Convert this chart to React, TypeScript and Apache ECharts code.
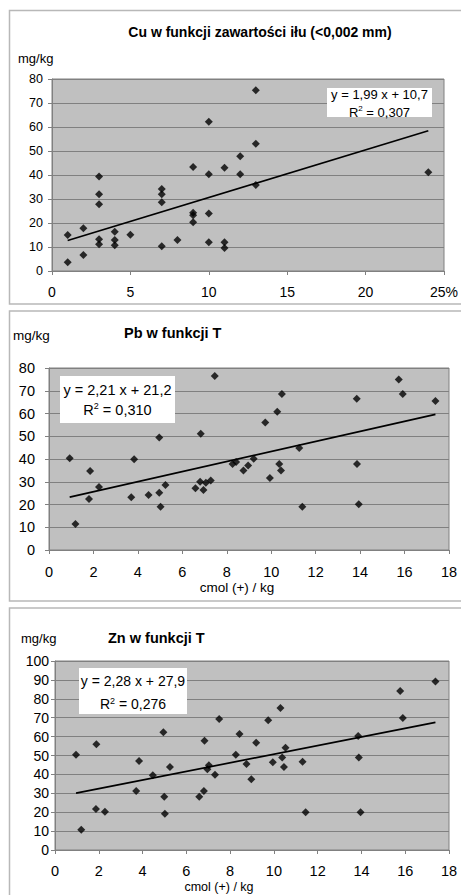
import React, { useEffect, useRef } from "react";
import * as echarts from "echarts";

// ---- Data ----
const cuTitle = "Cu w funkcji zawartości iłu (<0,002 mm)";
const cuX = [1, 1, 2, 2, 3, 3, 3, 3, 3, 4, 4, 4, 5, 7, 7, 7, 7, 8, 9, 9, 9, 9, 10, 10, 10, 10, 11, 11, 11, 12, 12, 13, 13, 13, 24];
const cuY = [15, 3.6, 17.8, 6.7, 39.4, 32, 27.8, 13.2, 11.1, 16.4, 12.9, 10.7, 15.1, 34.2, 32, 28.6, 10.3, 12.9, 43.3, 24.3, 23.2, 20.3, 62.2, 40.3, 24, 12, 43, 12, 9.6, 47.8, 40.3, 75.3, 53, 35.8, 41.1];
const cuFit = { slope: 1.99, intercept: 10.7, eq: "y = 1,99 x + 10,7", r2: "0,307" };
const cuTicks = ["0", "5", "10", "15", "20", "25%"];

const pbTitle = "Pb w funkcji T";
const pbX = [7.46, 15.74, 10.48, 15.92, 13.85, 17.39, 10.27, 9.73, 6.83, 4.96, 11.26, 0.93, 3.83, 9.21, 1.85, 2.25, 1.8, 1.19, 3.7, 4.48, 4.96, 5.02, 5.24, 6.59, 6.8, 6.95, 7.06, 7.28, 8.26, 8.42, 8.75, 8.96, 9.94, 10.36, 10.44, 11.4, 13.86, 13.94];
const pbY = [76.5, 75.0, 68.6, 68.6, 66.5, 65.5, 60.8, 56.0, 51.1, 49.4, 44.8, 40.3, 39.9, 40.1, 34.7, 27.7, 22.4, 11.4, 23.2, 24.2, 25.2, 19.0, 28.6, 27.1, 30.0, 26.4, 29.6, 30.6, 37.8, 38.7, 35.0, 37.1, 31.6, 37.8, 35.0, 19.0, 37.8, 20.1];
const pbFit = { slope: 2.21, intercept: 21.2, eq: "y = 2,21 x + 21,2", r2: "0,310" };

const znTitle = "Zn w funkcji T";
const znX = [17.38, 15.77, 15.89, 10.3, 9.74, 7.5, 4.95, 8.43, 6.83, 9.19, 13.85, 1.89, 0.96, 3.84, 4.47, 3.71, 4.99, 5.02, 5.25, 6.59, 6.8, 6.96, 7.03, 7.31, 8.26, 8.75, 8.97, 9.95, 10.38, 10.46, 10.53, 11.31, 11.45, 13.88, 13.96, 1.2, 1.87, 2.28];
const znY = [89.1, 84.1, 69.8, 75.1, 68.6, 69.3, 62.3, 61.4, 57.8, 56.8, 60.3, 55.9, 50.4, 47.1, 39.5, 31.2, 28.2, 19.2, 43.9, 28.2, 31.2, 42.7, 44.8, 39.8, 50.4, 45.5, 37.4, 46.4, 48.9, 43.9, 54.1, 46.7, 20.0, 48.9, 20.0, 10.7, 21.7, 20.3];
const znFit = { slope: 2.28, intercept: 27.9, eq: "y = 2,28 x + 27,9", r2: "0,276" };

const yUnit = "mg/kg";
const xUnitT = "cmol (+) / kg";

const FONT = "'Liberation Sans', Arial, sans-serif";
const GRAY = "#808080";

function zip(xs: number[], ys: number[]) {
  return xs.map((x, i) => [x, ys[i]]);
}
function trend(xs: number[], fit: { slope: number; intercept: number }) {
  const lo = Math.min(...xs);
  const hi = Math.max(...xs);
  return [
    [lo, fit.slope * lo + fit.intercept],
    [hi, fit.slope * hi + fit.intercept],
  ];
}

export default function App() {
  const ref = useRef<HTMLDivElement>(null);
  useEffect(() => {
    if (!ref.current) return;
    const chart = echarts.init(ref.current, null, { renderer: "svg" });

    const mkX = (gi: number, max: number, interval: number, fs: number, margin: number, fmt?: (v: number) => string) => ({
      type: "value",
      gridIndex: gi,
      min: 0,
      max,
      interval,
      splitLine: { show: false },
      axisLine: { show: true, onZero: false, lineStyle: { color: GRAY, width: 1 } },
      axisTick: { show: true, length: 4, lineStyle: { color: GRAY } },
      axisLabel: { color: "#000", fontSize: fs, fontFamily: FONT, margin, hideOverlap: false, showMinLabel: true, showMaxLabel: true, formatter: fmt },
    });
    const mkY = (gi: number, max: number, fs: number, margin: number) => ({
      type: "value",
      gridIndex: gi,
      min: 0,
      max,
      interval: 10,
      splitLine: { show: true, lineStyle: { color: GRAY, width: 1 } },
      axisLine: { show: true, onZero: false, lineStyle: { color: GRAY, width: 1 } },
      axisTick: { show: true, length: 4, lineStyle: { color: GRAY } },
      axisLabel: { color: "#000", fontSize: fs, fontFamily: FONT, margin, showMinLabel: true, showMaxLabel: true },
    });
    const scatter = (gi: number, data: number[][]) => ({
      type: "scatter",
      xAxisIndex: gi,
      yAxisIndex: gi,
      symbol: "diamond",
      symbolSize: 8,
      itemStyle: { color: "#000" },
      data,
      z: 3,
    });
    const line = (gi: number, data: number[][]) => ({
      type: "line",
      xAxisIndex: gi,
      yAxisIndex: gi,
      symbol: "none",
      lineStyle: { color: "#000", width: 1.7 },
      data,
      z: 4,
    });
    const panel = (y: number, h: number) => ({
      type: "rect",
      shape: { x: 9.5, y, width: 480, height: h },
      style: { fill: "none", stroke: "#b8b8b8", lineWidth: 1.5 },
      z: 1,
    });
    const txt = (text: string, x: number, y: number, fs: number, bold = false, align = "left") => ({
      type: "text",
      x,
      y,
      z: 120,
      style: { text, fill: "#000", fontSize: fs, fontFamily: FONT, fontWeight: bold ? "bold" : "normal", align, verticalAlign: "middle" },
    });
    const eqBox = (x: number, y: number, w: number, h: number, fit: any, fs: number, l1: number, l2: number) => [
      { type: "rect", shape: { x, y, width: w, height: h }, style: { fill: "#fff", stroke: "none" }, z: 110 },
      txt(fit.eq, x + w / 2, l1, fs, false, "center"),
      {
        type: "text",
        x: x + w / 2,
        y: l2,
        z: 120,
        style: {
          text: "{a|R}{s|2}{a| = " + fit.r2 + "}",
          fill: "#000",
          fontFamily: FONT,
          fontSize: fs,
          align: "center",
          verticalAlign: "middle",
          rich: {
            a: { fontSize: fs, fontFamily: FONT, fill: "#000", lineHeight: fs + 2 },
            s: { fontSize: Math.round(fs * 0.62), fontFamily: FONT, fill: "#000", verticalAlign: "top", lineHeight: fs + 2, padding: [0, 0, 8, 0] },
          },
        },
      },
    ];
    const gridBase = { show: true, backgroundColor: "#c0c0c0", borderColor: GRAY, borderWidth: 1, containLabel: false, outerBoundsMode: "none" };

    chart.setOption({
      animation: false,
      textStyle: { fontFamily: FONT },
      grid: [
        { ...gridBase, left: 52, top: 79, width: 392, height: 192 },
        { ...gridBase, left: 49, top: 368, width: 400, height: 182 },
        { ...gridBase, left: 55, top: 661, width: 394, height: 189 },
      ],
      xAxis: [
        mkX(0, 25, 5, 14, 14, (v: number) => cuTicks[Math.round(v / 5)] ?? String(v)),
        mkX(1, 18, 2, 14.5, 14),
        mkX(2, 18, 2, 14.5, 13),
      ],
      yAxis: [mkY(0, 80, 12.5, 9), mkY(1, 80, 14.5, 14), mkY(2, 100, 14, 6)],
      series: [
        scatter(0, zip(cuX, cuY)),
        line(0, trend(cuX, cuFit)),
        scatter(1, zip(pbX, pbY)),
        line(1, trend(pbX, pbFit)),
        scatter(2, zip(znX, znY)),
        line(2, trend(znX, znFit)),
      ],
      graphic: [
        panel(10.5, 293.5),
        panel(311, 290),
        panel(608, 300),
        txt(cuTitle, 260, 32, 14, true, "center"),
        txt(yUnit, 18, 58, 13),
        txt(pbTitle, 124, 333, 14.5, true),
        txt(yUnit, 13, 335, 13.5),
        txt(xUnitT, 237, 587, 13.5, false, "center"),
        txt(znTitle, 108, 638, 14.5, true),
        txt(yUnit, 21, 638, 13),
        txt(xUnitT, 219, 887, 12.5, false, "center"),
        ...eqBox(327, 88, 105, 29, cuFit, 13, 94, 112),
        ...eqBox(60, 376, 115, 47, pbFit, 14.5, 390, 410),
        ...eqBox(79, 668, 108, 46, znFit, 14, 681, 704),
      ],
    });
    return () => chart.dispose();
  }, []);
  return <div ref={ref} style={{ position: "absolute", left: 0, top: 0, width: 461, height: 895 }} />;
}
